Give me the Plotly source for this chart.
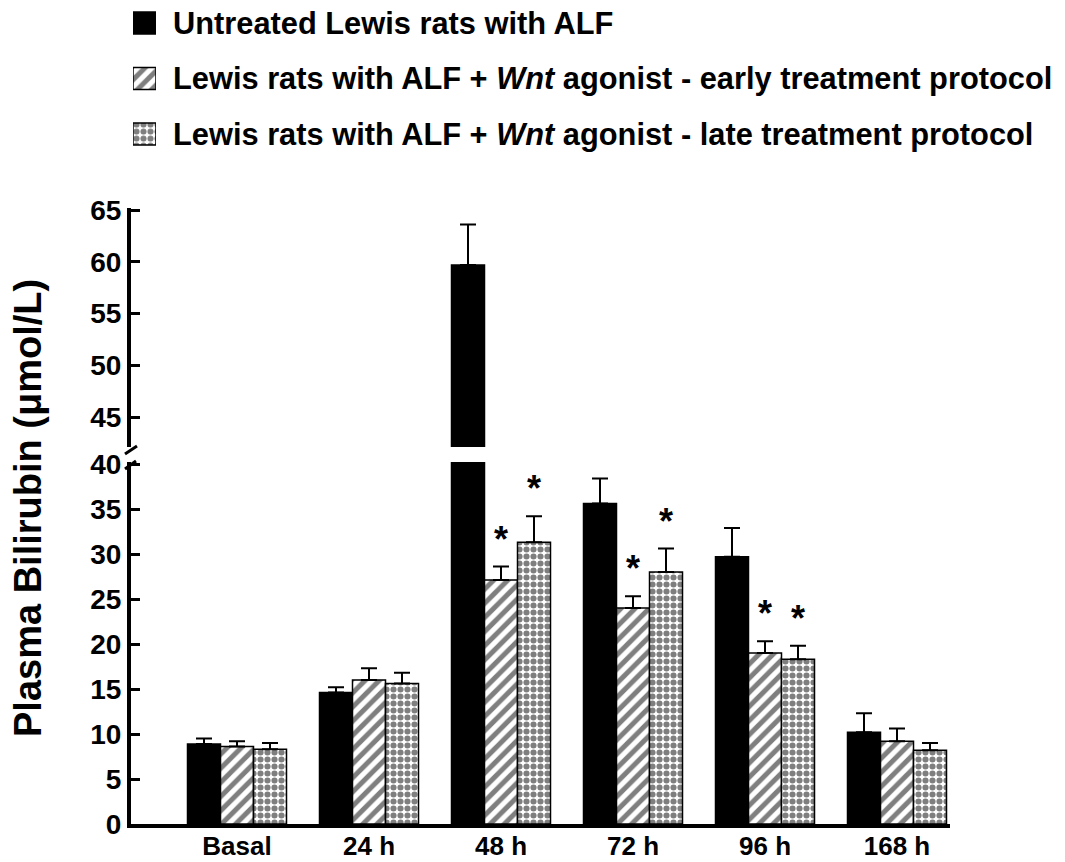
import plotly.graph_objects as go

# ---- data -------------------------------------------------------------
categories = ["Basal", "24 h", "48 h", "72 h", "96 h", "168 h"]

untreated = [8.9, 14.6, 59.7, 35.6, 29.7, 10.2]
untreated_sem = [0.6, 0.6, 3.9, 2.8, 3.2, 2.1]

early = [8.6, 16.0, 27.1, 24.0, 19.0, 9.2]
early_sem = [0.6, 1.3, 1.5, 1.3, 1.3, 1.4]

late = [8.3, 15.6, 31.3, 28.0, 18.3, 8.2]
late_sem = [0.7, 1.2, 2.9, 2.6, 1.5, 0.8]

# significance vs untreated (1 = marked with *)
early_sig = [0, 0, 1, 1, 1, 0]
late_sig = [0, 0, 1, 1, 1, 0]

series_names = [
    "Untreated Lewis rats with ALF",
    "Lewis rats with ALF + <i>Wnt</i> agonist - early treatment protocol",
    "Lewis rats with ALF + <i>Wnt</i> agonist - late treatment protocol",
]

lower_ticks = [0, 5, 10, 15, 20, 25, 30, 35, 40]
upper_ticks = [45, 50, 55, 60, 65]

# ---- geometry helpers (pixel -> paper) --------------------------------
W, H = 1065, 862
FONT = "Liberation Sans, Arial, sans-serif"


def px(x):
    return x / W


def py(y):
    return 1 - y / H


PLOT_L, PLOT_R = 131, 950
LOW_BOTTOM, LOW_TOP = 824, 462
UP_BOTTOM, UP_TOP = 447, 208
GROUP_STEP = 132.0          # pixels between category centres
FIRST_CENTRE = 237.0        # pixel x of the first category

styles = [
    dict(color="black", pattern=None),
    dict(color="white", pattern=dict(shape="/", fgcolor="black", bgcolor="white",
                                     size=10, solidity=0.5)),
    dict(color="white", pattern=dict(shape=".", fgcolor="black", bgcolor="white",
                                     size=7, solidity=0.6)),
]
values = [untreated, early, late]
errors = [untreated_sem, early_sem, late_sem]

fig = go.Figure()

# each series is drawn on both halves of the broken axis
for yref in ["y", "y2"]:
    for name, vals, errs, st in zip(series_names, values, errors, styles):
        marker = dict(color=st["color"], line=dict(color="black", width=1.5))
        if st["pattern"]:
            marker["pattern"] = st["pattern"]
        fig.add_trace(go.Bar(
            x=categories, y=vals, name=name, yaxis=yref, xaxis="x",
            marker=marker, showlegend=False,
            error_y=dict(type="data", symmetric=False, array=errs,
                         arrayminus=[0] * len(errs), color="black",
                         thickness=2, width=8),
        ))

# legend swatches in their own small subplot
for i, (name, st) in enumerate(zip(series_names, styles)):
    marker = dict(color=st["color"], line=dict(color="black", width=1.5))
    if st["pattern"]:
        marker["pattern"] = st["pattern"]
    fig.add_trace(go.Bar(
        x=[1], y=[i], orientation="h", width=0.4, marker=marker,
        xaxis="x3", yaxis="y3", showlegend=False, hoverinfo="skip",
    ))
    fig.add_annotation(
        x=px(171), y=i, xref="paper", yref="y3", xanchor="left", yanchor="middle",
        text=name, showarrow=False,
        font=dict(family=FONT, size=30.8, color="black", weight="bold"),
    )

# significance asterisks
for vals, errs, sig, offset in [(early, early_sem, early_sig, 0.0),
                                 (late, late_sem, late_sig, 0.25)]:
    for i, (v, e, s) in enumerate(zip(vals, errs, sig)):
        if s:
            fig.add_annotation(
                x=i + offset, y=v + e, xref="x", yref="y",
                text="*", showarrow=False, yanchor="bottom", yshift=5,
                font=dict(family=FONT, size=36, color="black", weight="bold"),
            )

tickfont = dict(family=FONT, size=28, color="black", weight="bold")
low_h = LOW_BOTTOM - LOW_TOP
up_h = UP_BOTTOM - UP_TOP

axis_common = dict(showline=True, linecolor="black", linewidth=4,
                   showgrid=False, zeroline=False, automargin=False)

fig.update_layout(
    width=W, height=H,
    margin=dict(l=0, r=0, t=0, b=0, autoexpand=False),
    paper_bgcolor="white", plot_bgcolor="white",
    barmode="group", bargap=0.25, bargroupgap=0,
    xaxis=dict(
        domain=[px(PLOT_L), px(PLOT_R)], anchor="y",
        range=[(PLOT_L - FIRST_CENTRE) / GROUP_STEP,
               (PLOT_R - FIRST_CENTRE) / GROUP_STEP],
        ticks="", ticklabelstandoff=-4,
        tickfont=dict(family=FONT, size=26, color="black", weight="bold"),
        **axis_common,
    ),
    yaxis=dict(
        domain=[py(LOW_BOTTOM), py(LOW_TOP)], anchor="x",
        range=[0, low_h / 9.0], tickvals=lower_ticks,
        ticks="inside", ticklen=9, tickwidth=3, tickcolor="black",
        ticklabelstandoff=0, tickfont=tickfont,
        **axis_common,
    ),
    yaxis2=dict(
        domain=[py(UP_BOTTOM), py(UP_TOP)], anchor="x",
        range=[65.2 - up_h / 10.35, 65.2], tickvals=upper_ticks,
        ticks="inside", ticklen=9, tickwidth=3, tickcolor="black",
        ticklabelstandoff=0, tickfont=tickfont,
        **axis_common,
    ),
    xaxis3=dict(domain=[px(133), px(156)], anchor="y3", range=[0, 1],
                visible=False, fixedrange=True, automargin=False),
    yaxis3=dict(domain=[py(23 + 55.5 * 2.25), py(23 - 55.5 * 0.25)], anchor="x3",
                range=[2.25, -0.25], visible=False, fixedrange=True,
                automargin=False),
    showlegend=False,
)

# axis break marks
for x0, y0, x1, y1 in [(125, 454, 137, 446), (125, 469, 136, 461)]:
    fig.add_shape(type="line", xref="paper", yref="paper",
                  x0=px(x0), y0=py(y0), x1=px(x1), y1=py(y1),
                  line=dict(color="black", width=3))

# y axis title
fig.add_annotation(
    x=px(28), y=py(508), xref="paper", yref="paper",
    text="Plasma Bilirubin (\u03bcmol/L)", textangle=-90, showarrow=False,
    xanchor="center", yanchor="middle",
    font=dict(family=FONT, size=38, color="black", weight="bold"),
)

fig.write_html("out.html")
